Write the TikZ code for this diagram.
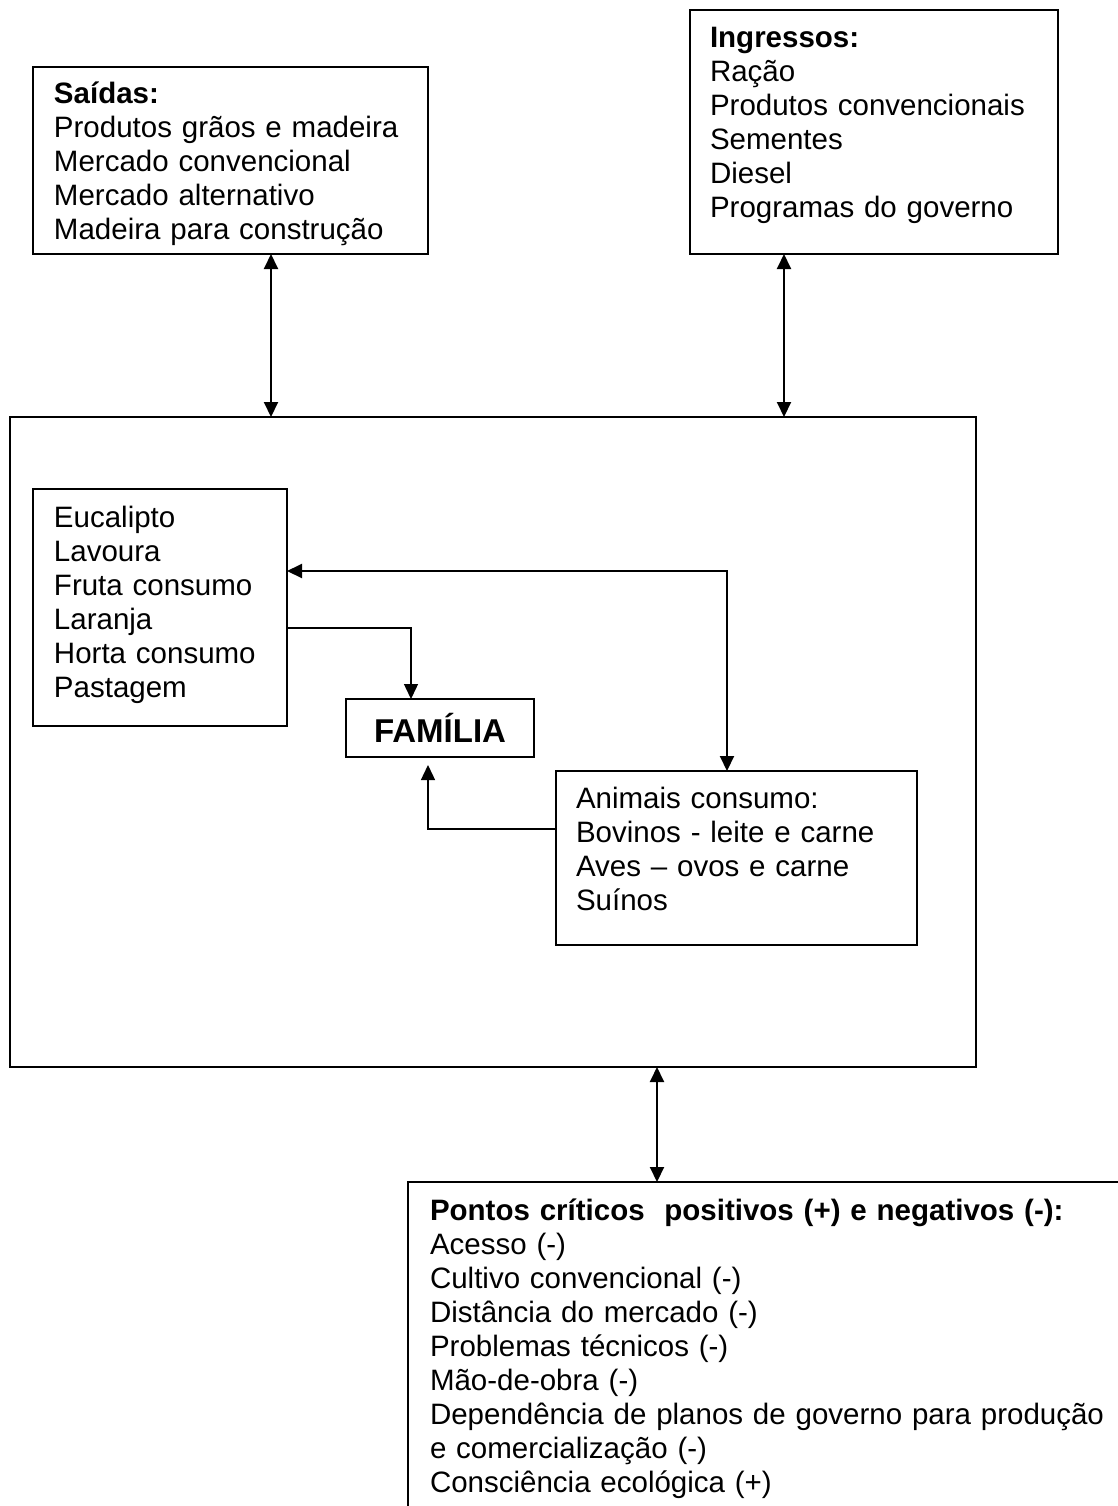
\documentclass[tikz,border=0pt]{standalone}
\usepackage{fontspec}
\setmainfont{Liberation Sans}
\usetikzlibrary{arrows.meta,calc}
\tikzset{
  box/.style={draw, rectangle, line width=0.8pt, inner sep=0pt, outer sep=0pt, anchor=north west},
  txt/.style={anchor=base west, inner sep=0pt, outer sep=0pt, align=left, text width=#1,
              font=\fontsize{14.75pt}{17pt}\selectfont},
  link/.style={line width=1pt},
  thinlink/.style={line width=0.7pt},
  >={Triangle[length=7.5pt,width=7pt]}
}
\begin{document}
\begin{tikzpicture}[x=0.5pt,y=-0.5pt]
  \useasboundingbox (0,0) rectangle (1118,1506);
  \clip (0,0) rectangle (1118,1506);

  % outer boxes
  \node[box, minimum width=197.5pt, minimum height=93.5pt] (saidas) at (33,67) {};
  \node[box, minimum width=184pt, minimum height=122pt] (ingressos) at (690,10) {};
  \node[box, minimum width=483pt, minimum height=325pt] (sistema) at (10,417) {};
  \node[box, minimum width=365pt, minimum height=170pt] (criticos) at (408,1182) {};

  % boxes inside the system
  \node[box, minimum width=127pt, minimum height=118.5pt] (cultivos) at (33,489) {};
  \node[box, minimum width=180.5pt, minimum height=87pt] (animais) at (556,771) {};
  \node[box, minimum width=94pt, minimum height=29pt,
        font=\fontsize{16.5pt}{18pt}\selectfont\bfseries] (familia) at (346,699) {FAMÍLIA};

  % texts
  \node[txt=190pt] (tsaidas) at (54,103)
    {\textbf{Saídas:}\\Produtos grãos e madeira\\Mercado convencional\\Mercado alternativo\\Madeira para construção};
  \node[txt=178pt] (tingressos) at (710,47)
    {\textbf{Ingressos:}\\Ração\\Produtos convencionais\\Sementes\\Diesel\\Programas do governo};
  \node[txt=115pt] (tcultivos) at (54,527)
    {Eucalipto\\Lavoura\\Fruta consumo\\Laranja\\Horta consumo\\Pastagem};
  \node[txt=170pt] (tanimais) at (576,808)
    {Animais consumo:\\Bovinos - leite e carne\\Aves – ovos e carne\\Suínos};
  \node[txt=345pt] (tcriticos) at (430,1220)
    {\textbf{Pontos críticos\ \ positivos (+) e negativos (-):}\\Acesso (-)\\Cultivo convencional (-)\\Distância do mercado (-)\\Problemas técnicos (-)\\Mão-de-obra (-)\\Dependência de planos de governo para produção\\e comercialização (-)\\Consciência ecológica (+)};

  % connector anchor points
  \coordinate (s1) at ($(saidas.south west)+(238,0)$);
  \coordinate (i1) at ($(ingressos.south west)+(94,0)$);
  \coordinate (k1) at ($(criticos.north west)+(249,0)$);
  \coordinate (c1) at ($(cultivos.north east)+(0,82)$);
  \coordinate (c2) at ($(cultivos.north east)+(0,139)$);
  \coordinate (a1) at ($(animais.north west)+(171,0)$);
  \coordinate (a2) at ($(animais.north west)+(0,58)$);
  \coordinate (f1) at ($(familia.north west)+(65,0)$);
  \coordinate (f2) at ($(familia.south west)+(82,8)$);

  % exchanges with the outside
  \draw[link,<->] (s1) -- (s1 |- sistema.north);
  \draw[link,<->] (i1) -- (i1 |- sistema.north);
  \draw[link,<->] (k1 |- sistema.south) -- (k1);

  % flows inside the system
  \draw[link,<->] (c1) -- (c1 -| a1) -- (a1);
  \draw[thinlink,->] (c2) -| (f1);
  \draw[thinlink,->] (a2) -| (f2);
\end{tikzpicture}
\end{document}
